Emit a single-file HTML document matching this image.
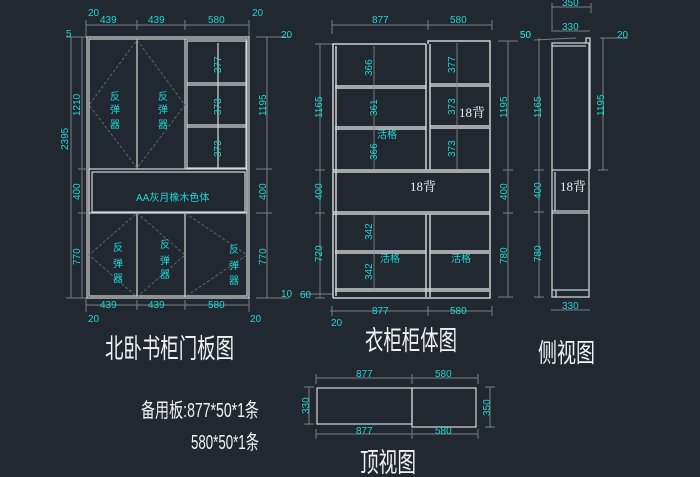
<!DOCTYPE html>
<html><head><meta charset="utf-8"><style>
html,body{margin:0;padding:0;background:#212830;}
svg{display:block;}
.c{fill:#1fd6d6;font-family:"Liberation Sans","Noto Sans CJK SC",sans-serif;font-size:10px;}
.w{fill:#eeeeee;font-family:"Liberation Serif","Noto Serif CJK SC",serif;}
.t{fill:#f2f2f2;font-family:"Liberation Sans","Noto Sans CJK SC",sans-serif;}
</style></head><body>
<svg width="700" height="477" viewBox="0 0 700 477" xmlns="http://www.w3.org/2000/svg">
<rect width="700" height="477" fill="#212830"/>
<!-- ===== Door view ===== -->
<g stroke="#7a7f85" stroke-width="1" fill="none">
 <line x1="86" y1="25" x2="249" y2="25"/><line x1="86" y1="20" x2="86" y2="37"/><line x1="137" y1="20" x2="137" y2="30"/><line x1="185" y1="20" x2="185" y2="30"/><line x1="249" y1="20" x2="249" y2="37"/>
 <line x1="86" y1="305" x2="249" y2="305"/><line x1="86" y1="298" x2="86" y2="312"/><line x1="137" y1="300" x2="137" y2="310"/><line x1="185" y1="300" x2="185" y2="310"/><line x1="249" y1="298" x2="249" y2="312"/>
 <line x1="71" y1="37" x2="71" y2="298"/><line x1="82" y1="37" x2="82" y2="298"/><line x1="66" y1="37" x2="87" y2="37"/><line x1="66" y1="298" x2="87" y2="298"/><line x1="78" y1="169" x2="86" y2="169"/><line x1="78" y1="213" x2="86" y2="213"/>
 <line x1="267" y1="37" x2="267" y2="298"/><line x1="256" y1="37" x2="290" y2="37"/><line x1="256" y1="169" x2="272" y2="169"/><line x1="256" y1="213" x2="272" y2="213"/><line x1="256" y1="298" x2="290" y2="298"/>
</g>
<g stroke="#d8d8d8" stroke-width="1.2" fill="none">
 <rect x="87" y="37" width="162" height="261"/>
 <rect x="89" y="39" width="158" height="257"/>
 <line x1="137" y1="39" x2="137" y2="169"/><line x1="185" y1="39" x2="185" y2="169"/>
 <line x1="137" y1="213" x2="137" y2="297"/><line x1="185" y1="213" x2="185" y2="297"/>
 <rect x="187" y="41" width="59" height="127"/>
 <line x1="187" y1="83" x2="246" y2="83"/><line x1="187" y1="85" x2="246" y2="85"/>
 <line x1="187" y1="125" x2="246" y2="125"/><line x1="187" y1="127" x2="246" y2="127"/>
 <line x1="218" y1="43" x2="218" y2="168"/>
 <rect x="89" y="169" width="158" height="44"/>
 <rect x="92" y="172" width="153" height="40"/>
</g>
<g stroke="#6d7075" stroke-width="0.8" stroke-dasharray="3,2" fill="none">
 <polygon points="137,40 185,105 137,168 89,105"/>
 <polygon points="137,213 185,255 137,297 89,255"/>
 <polyline points="185,213 247,255 185,297"/>
</g>
<g class="c">
 <text x="88" y="16">20</text><text x="252" y="16">20</text>
 <text x="100" y="23">439</text><text x="148" y="23">439</text><text x="208" y="23">580</text>
 <text x="100" y="308">439</text><text x="148" y="308">439</text><text x="208" y="308">580</text>
 <text x="88" y="322">20</text><text x="250" y="322">20</text>
 <text x="66" y="37">5</text><text x="281" y="38">20</text><text x="281" y="297">10</text>
 <text transform="translate(68,150) rotate(-90)">2395</text>
 <text transform="translate(80,116) rotate(-90)">1210</text>
 <text transform="translate(80,200) rotate(-90)">400</text>
 <text transform="translate(80,265) rotate(-90)">770</text>
 <text transform="translate(266,116) rotate(-90)">1195</text>
 <text transform="translate(266,200) rotate(-90)">400</text>
 <text transform="translate(266,265) rotate(-90)">770</text>
 <text transform="translate(221,73) rotate(-90)">377</text>
 <text transform="translate(221,115) rotate(-90)">373</text>
 <text transform="translate(221,157) rotate(-90)">373</text>
 <text x="136" y="201">AA灰月橡木色体</text>
 <text x="110" y="100">反</text><text x="110" y="113">弹</text><text x="110" y="128">器</text>
 <text x="158" y="100">反</text><text x="158" y="113">弹</text><text x="158" y="128">器</text>
 <text x="113" y="251">反</text><text x="113" y="267">弹</text><text x="113" y="282">器</text>
 <text x="160" y="248">反</text><text x="160" y="264">弹</text><text x="160" y="278">器</text>
 <text x="229" y="253">反</text><text x="229" y="269">弹</text><text x="229" y="284">器</text>
</g>
<!-- ===== Body view ===== -->
<g stroke="#7a7f85" stroke-width="1" fill="none">
 <line x1="332" y1="25" x2="492" y2="25"/><line x1="332" y1="20" x2="332" y2="34"/><line x1="428" y1="20" x2="428" y2="30"/><line x1="492" y1="20" x2="492" y2="30"/>
 <line x1="330" y1="311" x2="492" y2="311"/><line x1="332" y1="306" x2="332" y2="316"/><line x1="428" y1="306" x2="428" y2="316"/><line x1="492" y1="306" x2="492" y2="316"/>
 <line x1="320" y1="44" x2="320" y2="298"/><line x1="315" y1="44" x2="333" y2="44"/><line x1="315" y1="170" x2="325" y2="170"/><line x1="315" y1="213" x2="325" y2="213"/><line x1="300" y1="294" x2="333" y2="294"/><line x1="315" y1="298" x2="325" y2="298"/>
 <line x1="508" y1="41" x2="508" y2="297"/><line x1="498" y1="41" x2="518" y2="41"/><line x1="503" y1="170" x2="513" y2="170"/><line x1="503" y1="213" x2="513" y2="213"/><line x1="498" y1="297" x2="513" y2="297"/>
</g>
<g stroke="#d0d0d0" stroke-width="1.5" fill="none">
 <polyline points="333,298 333,44 426,44"/>
 <polyline points="428,44 428,41 490,41 490,298 333,298"/>
 <line x1="336" y1="46" x2="336" y2="296"/>
 <line x1="426" y1="44" x2="426" y2="170"/><line x1="430" y1="44" x2="430" y2="170"/>
 <line x1="426" y1="214" x2="426" y2="297"/><line x1="430" y1="214" x2="430" y2="297"/>
 <line x1="335" y1="86" x2="426" y2="86"/><line x1="335" y1="88" x2="426" y2="88"/>
 <line x1="335" y1="127" x2="426" y2="127"/><line x1="335" y1="129" x2="426" y2="129"/>
 <line x1="430" y1="84" x2="489" y2="84"/><line x1="430" y1="86" x2="489" y2="86"/>
 <line x1="430" y1="126" x2="489" y2="126"/><line x1="430" y1="128" x2="489" y2="128"/>
 <line x1="333" y1="170" x2="490" y2="170"/><line x1="333" y1="172" x2="490" y2="172"/>
 <line x1="333" y1="212" x2="490" y2="212"/><line x1="333" y1="214" x2="490" y2="214"/>
 <line x1="335" y1="251" x2="426" y2="251"/><line x1="335" y1="253" x2="426" y2="253"/>
 <line x1="430" y1="251" x2="489" y2="251"/><line x1="430" y1="253" x2="489" y2="253"/>
 <line x1="335" y1="289" x2="489" y2="289"/><line x1="335" y1="291" x2="489" y2="291"/>
</g>
<g stroke="#8a8d90" stroke-width="0.8"><line x1="374" y1="46" x2="374" y2="169"/><line x1="457" y1="43" x2="457" y2="169"/><line x1="374" y1="214" x2="374" y2="290"/></g>
<g class="c">
 <text x="372" y="23">877</text><text x="450" y="23">580</text>
 <text x="372" y="314">877</text><text x="450" y="314">580</text>
 <text x="300" y="298">60</text><text x="331" y="326">20</text><text x="520" y="38">50</text>
 <text transform="translate(322,118) rotate(-90)">1165</text>
 <text transform="translate(322,200) rotate(-90)">400</text>
 <text transform="translate(322,262) rotate(-90)">720</text>
 <text transform="translate(507,118) rotate(-90)">1195</text>
 <text transform="translate(507,200) rotate(-90)">400</text>
 <text transform="translate(507,264) rotate(-90)">780</text>
 <text transform="translate(372,76) rotate(-90)">366</text>
 <text transform="translate(377,116) rotate(-90)">361</text>
 <text transform="translate(377,160) rotate(-90)">366</text>
 <text transform="translate(455,73) rotate(-90)">377</text>
 <text transform="translate(455,115) rotate(-90)">373</text>
 <text transform="translate(455,157) rotate(-90)">373</text>
 <text transform="translate(372,240) rotate(-90)">342</text>
 <text transform="translate(372,280) rotate(-90)">342</text>
 <text x="377" y="138">活格</text><text x="380" y="262">活格</text><text x="451" y="262">活格</text>
</g>
<text class="w" x="459" y="117" font-size="13">18背</text>
<text class="w" x="410" y="191" font-size="13">18背</text>
<text class="w" x="560" y="191" font-size="13">18背</text>
<!-- ===== Side view ===== -->
<g stroke="#7a7f85" stroke-width="1" fill="none">
 <line x1="552" y1="7" x2="591" y2="7"/><line x1="552" y1="3" x2="552" y2="30"/><line x1="591" y1="3" x2="591" y2="13"/>
 <line x1="551" y1="31" x2="590" y2="31"/>
 <line x1="539" y1="38" x2="539" y2="298"/><line x1="534" y1="40" x2="576" y2="38"/><line x1="534" y1="170" x2="544" y2="170"/><line x1="534" y1="212" x2="544" y2="212"/><line x1="534" y1="297" x2="544" y2="297"/>
 <line x1="603" y1="38" x2="603" y2="170"/><line x1="600" y1="38" x2="628" y2="38"/><line x1="598" y1="170" x2="608" y2="170"/>
 <line x1="551" y1="310" x2="590" y2="310"/>
</g>
<g stroke="#d0d0d0" stroke-width="1.3" fill="none">
 <rect x="552" y="43" width="37" height="254"/>
 <polyline points="586,43 586,38 590,38 590,169"/>
 <line x1="552" y1="46" x2="586" y2="46"/>
 <line x1="552" y1="170" x2="589" y2="170"/><line x1="555" y1="172" x2="555" y2="211"/>
 <line x1="552" y1="211" x2="589" y2="211"/><line x1="552" y1="213" x2="589" y2="213"/>
 <line x1="552" y1="290" x2="589" y2="290"/><line x1="556" y1="290" x2="556" y2="297"/>
</g>
<g class="c">
 <text x="562" y="6">350</text><text x="562" y="30">330</text><text x="562" y="309">330</text>
 <text x="520" y="38">50</text><text x="617" y="38">20</text>
 <text transform="translate(541,118) rotate(-90)">1165</text>
 <text transform="translate(541,199) rotate(-90)">400</text>
 <text transform="translate(541,262) rotate(-90)">780</text>
 <text transform="translate(604,116) rotate(-90)">1195</text>
</g>
<!-- ===== Top view ===== -->
<g stroke="#7a7f85" stroke-width="1" fill="none">
 <line x1="316" y1="378" x2="478" y2="378"/><line x1="316" y1="374" x2="316" y2="384"/><line x1="412" y1="374" x2="412" y2="384"/><line x1="478" y1="374" x2="478" y2="384"/>
 <line x1="316" y1="434" x2="478" y2="434"/><line x1="316" y1="429" x2="316" y2="439"/><line x1="412" y1="429" x2="412" y2="439"/><line x1="478" y1="429" x2="478" y2="439"/>
 <line x1="309" y1="387" x2="309" y2="425"/><line x1="304" y1="387" x2="314" y2="387"/><line x1="304" y1="424" x2="314" y2="424"/>
 <line x1="490" y1="387" x2="490" y2="428"/><line x1="485" y1="387" x2="495" y2="387"/><line x1="485" y1="427" x2="495" y2="427"/>
</g>
<g stroke="#d8d8d8" stroke-width="1.2" fill="none">
 <rect x="317" y="388" width="95" height="36"/>
 <rect x="412" y="388" width="64" height="39"/>
</g>
<g class="c">
 <text x="356" y="377">877</text><text x="435" y="377">580</text>
 <text x="356" y="434">877</text><text x="435" y="434">580</text>
 <text transform="translate(309,414) rotate(-90)">330</text>
 <text transform="translate(490,416) rotate(-90)">350</text>
</g>
<!-- ===== Titles ===== -->
<text class="t" x="105" y="358" font-size="27" textLength="129" lengthAdjust="spacingAndGlyphs">北卧书柜门板图</text>
<text class="t" x="365" y="350" font-size="27" textLength="92" lengthAdjust="spacingAndGlyphs">衣柜柜体图</text>
<text class="t" x="538" y="362" font-size="26" textLength="57" lengthAdjust="spacingAndGlyphs">侧视图</text>
<text class="t" x="360" y="472" font-size="27" textLength="56" lengthAdjust="spacingAndGlyphs">顶视图</text>
<text class="t" x="141" y="417" font-size="20" textLength="118" lengthAdjust="spacingAndGlyphs">备用板:877*50*1条</text>
<text class="t" x="191" y="449" font-size="20" textLength="68" lengthAdjust="spacingAndGlyphs">580*50*1条</text>
</svg>
</body></html>
